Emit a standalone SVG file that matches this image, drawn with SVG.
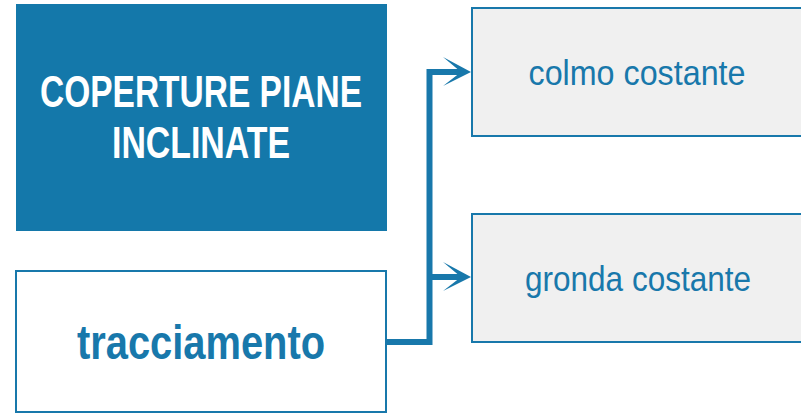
<svg xmlns="http://www.w3.org/2000/svg" width="801" height="413" viewBox="0 0 801 413">
<defs>
<style>
.t{font-family:"Liberation Sans Narrow","Liberation Sans",Arial,sans-serif;text-anchor:middle}
.b{font-weight:bold}
.box{stroke:#1878ab;stroke-width:2}
.conn{fill:none;stroke:#1878ab;stroke-width:6}
.ah{fill:#1878ab}
</style>
</defs>
<rect width="801" height="413" fill="#ffffff"/>
<g id="title">
<rect x="16" y="4" width="371" height="227" fill="#1478aa"/>
<text class="t b" x="201" y="107" font-size="45" fill="#ffffff" textLength="322" lengthAdjust="spacingAndGlyphs">COPERTURE PIANE</text>
<text class="t b" x="201" y="158" font-size="45" fill="#ffffff" textLength="178" lengthAdjust="spacingAndGlyphs">INCLINATE</text>
</g>
<g id="tracciamento">
<rect class="box" x="16" y="271" width="370" height="141" fill="#ffffff"/>
<text class="t b" x="201" y="359" font-size="49" fill="#1878ab" textLength="248" lengthAdjust="spacingAndGlyphs">tracciamento</text>
</g>
<g id="colmo">
<rect class="box" x="472" y="8" width="331" height="128" fill="#f0f0f0"/>
<text class="t" x="637" y="85" font-size="35" fill="#1878ab" textLength="217" lengthAdjust="spacingAndGlyphs">colmo costante</text>
</g>
<g id="gronda">
<rect class="box" x="472" y="214" width="331" height="128" fill="#f0f0f0"/>
<text class="t" x="638" y="291" font-size="35" fill="#1878ab" textLength="226" lengthAdjust="spacingAndGlyphs">gronda costante</text>
</g>
<g id="connectors">
<path class="conn" d="M386,342 H429.5 V72 H462"/>
<path class="conn" d="M429.5,277 H462"/>
<path class="ah" d="M471,72 L443,57 L461,72 L443,86 Z"/>
<path class="ah" d="M471,277 L443,262 L461,277 L443,291 Z"/>
</g>
</svg>
